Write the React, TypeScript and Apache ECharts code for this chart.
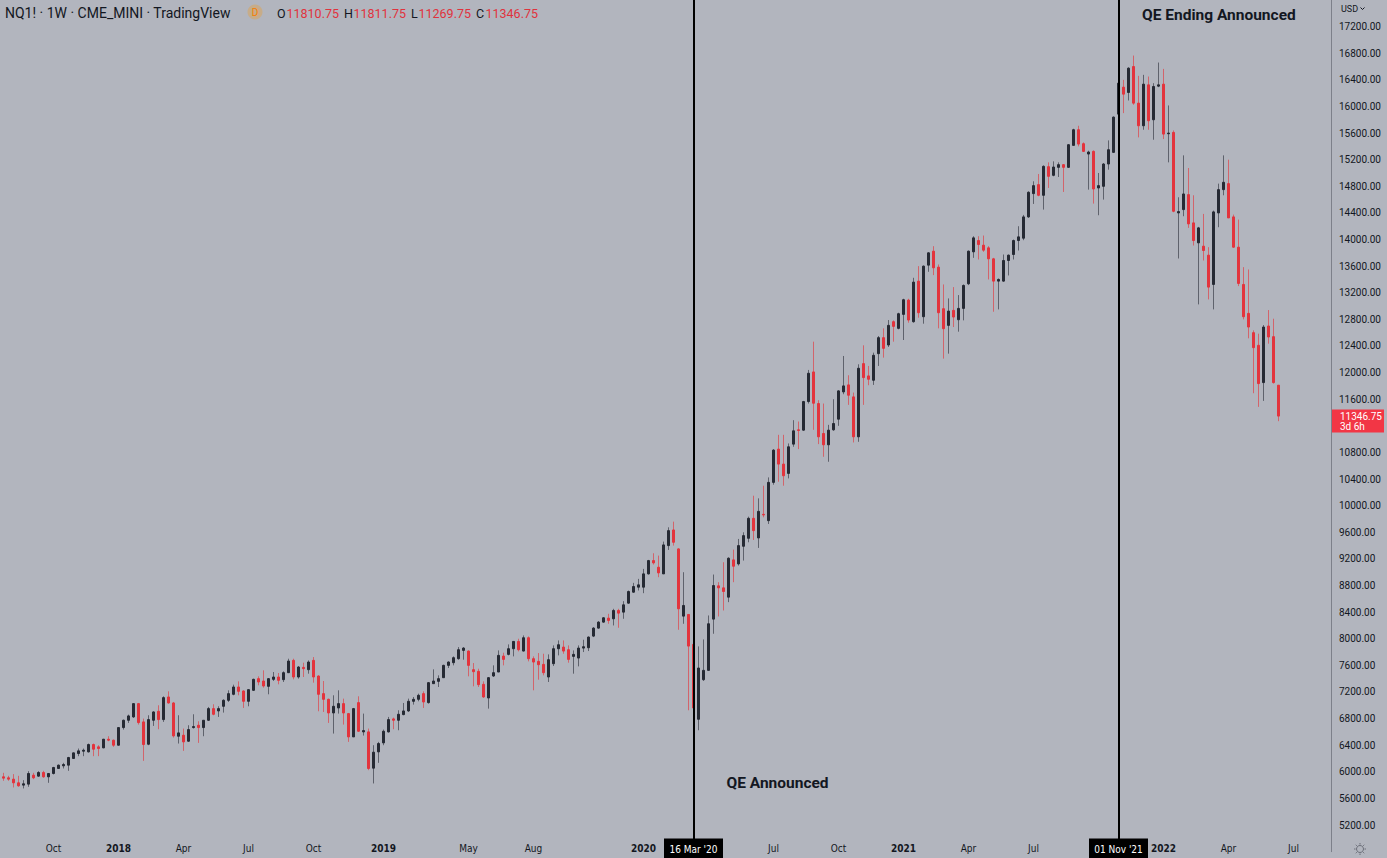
import React, { useEffect, useRef } from "react";
import * as echarts from "echarts";

// ---------- data ----------
const START_WEEK = "2017-07-17"; // Monday of the first weekly candle
const TOTAL_WEEKS = 267; // data weeks + empty future weeks on the right

// weekly candles: [open, close, low, high]
const ohlc2017: number[][] = [
  [5835, 5915, 5830, 5925], [5925, 5905, 5865, 5985], [5910, 5890, 5865, 5940], [5890, 5835, 5765, 5965],
  [5835, 5790, 5775, 5940], [5800, 5820, 5750, 5875], [5815, 5975, 5775, 6010], [5950, 5910, 5890, 5985],
  [5935, 5990, 5925, 6010], [5990, 5925, 5910, 6015], [5925, 5975, 5835, 5980], [5975, 6065, 5960, 6075],
  [6050, 6100, 6045, 6110], [6090, 6110, 6050, 6135], [6100, 6215, 6015, 6225], [6200, 6285, 6195, 6290],
  [6275, 6315, 6235, 6350], [6310, 6325, 6235, 6350], [6300, 6410, 6290, 6425], [6410, 6340, 6235, 6425],
  [6375, 6350, 6235, 6400], [6360, 6490, 6355, 6495], [6490, 6475, 6460, 6535], [6475, 6400, 6375, 6485],
];
const ohlc2018: number[][] = [
  [6400, 6665, 6395, 6670], [6665, 6775, 6635, 6785], [6775, 6840, 6735, 6860], [6825, 7025, 6810, 7030],
  [7025, 6740, 6710, 7035], [6750, 6410, 6165, 6800], [6415, 6785, 6400, 6850], [6775, 6900, 6690, 6910],
  [6910, 6785, 6640, 7000], [6785, 7115, 6750, 7135], [7125, 7035, 7025, 7210], [7035, 6540, 6515, 7050],
  [6535, 6585, 6425, 6850], [6550, 6450, 6315, 6650], [6460, 6635, 6450, 6700], [6665, 6680, 6650, 6865],
  [6700, 6665, 6435, 6760], [6665, 6775, 6535, 6775], [6775, 6950, 6765, 6975], [6950, 6865, 6850, 7015],
  [6915, 6950, 6825, 6985], [6985, 7075, 6890, 7090], [7075, 7175, 7050, 7225], [7165, 7275, 7150, 7310],
  [7275, 7210, 7150, 7360], [7215, 7060, 6960, 7225], [7060, 7235, 6985, 7240], [7225, 7390, 7215, 7400],
  [7400, 7350, 7300, 7435], [7365, 7290, 7265, 7525], [7285, 7400, 7165, 7410], [7390, 7425, 7365, 7500],
  [7425, 7375, 7315, 7485], [7385, 7490, 7350, 7510], [7490, 7665, 7485, 7700], [7675, 7425, 7390, 7700],
  [7425, 7575, 7400, 7590], [7570, 7550, 7425, 7640], [7535, 7650, 7475, 7675], [7675, 7425, 7340, 7725],
  [7440, 7165, 6910, 7450], [7175, 7090, 6900, 7365], [7090, 6885, 6735, 7100], [6885, 6985, 6575, 7150],
  [6960, 7025, 6875, 7225], [7025, 6885, 6710, 7100], [6875, 6525, 6450, 6885], [6525, 6950, 6525, 6960],
  [7040, 6610, 6600, 7135], [6600, 6620, 6545, 6875], [6600, 6050, 6025, 6650], [6055, 6295, 5825, 6400],
  [6300, 6425, 6135, 6450],
];
const ohlc2019: number[][] = [
  [6435, 6610, 6400, 6635], [6600, 6785, 6590, 6825], [6795, 6775, 6640, 6815], [6775, 6865, 6625, 6925],
  [6860, 6915, 6850, 7035], [6915, 7060, 6900, 7100], [7060, 7090, 7010, 7125], [7090, 7150, 7060, 7175],
  [7175, 7050, 6960, 7210], [7040, 7340, 7025, 7350], [7325, 7365, 7325, 7540], [7360, 7400, 7275, 7450],
  [7415, 7600, 7415, 7610], [7600, 7650, 7560, 7660], [7640, 7715, 7600, 7735], [7700, 7835, 7685, 7875],
  [7825, 7860, 7685, 7875], [7815, 7600, 7435, 7825], [7535, 7505, 7285, 7635], [7510, 7310, 7275, 7550],
  [7315, 7125, 7110, 7360], [7110, 7415, 6950, 7425], [7440, 7490, 7425, 7600], [7500, 7750, 7500, 7825],
  [7740, 7690, 7600, 7790], [7765, 7850, 7750, 7915], [7850, 7960, 7735, 7965], [7960, 7835, 7810, 8000],
  [7815, 8015, 7810, 8050], [8015, 7700, 7660, 8035], [7700, 7650, 7225, 7735], [7660, 7610, 7385, 7785],
  [7615, 7490, 7450, 7775], [7425, 7685, 7350, 7765], [7625, 7850, 7590, 7900], [7850, 7910, 7750, 7975],
  [7875, 7815, 7775, 7975], [7835, 7690, 7640, 7900], [7735, 7765, 7475, 7825], [7710, 7860, 7585, 7900],
  [7860, 7880, 7800, 7985], [7865, 8025, 7815, 8035], [8040, 8160, 8025, 8175], [8160, 8250, 8150, 8265],
  [8250, 8315, 8240, 8325], [8310, 8275, 8225, 8375], [8300, 8425, 8200, 8450], [8425, 8385, 8165, 8450],
  [8400, 8510, 8300, 8565], [8535, 8710, 8525, 8725], [8700, 8785, 8690, 8840], [8775, 8810, 8725, 8900],
];
const ohlc2020: number[][] = [
  [8775, 8975, 8685, 9050], [8975, 9175, 8965, 9185], [9175, 9140, 9115, 9285], [9075, 8990, 8925, 9250],
  [8975, 9410, 8975, 9460], [9400, 9625, 9335, 9675], [9635, 9450, 9400, 9760], [9350, 8450, 8135, 9360],
  [8340, 8500, 8225, 9000], [8365, 7890, 6925, 8370], [7915, 6960, 6800, 7925], [6790, 7560, 6625, 7885],
  [7385, 7525, 7365, 7990], [7525, 8225, 7525, 8350], [8295, 8800, 8075, 8965], [8795, 8765, 8335, 8850],
  [8765, 8710, 8425, 9150], [8625, 9210, 8550, 9225], [9185, 9090, 8850, 9340], [9125, 9400, 9100, 9500],
  [9390, 9550, 9175, 9600], [9510, 9810, 9450, 9835], [9810, 9625, 9485, 10150], [9515, 9915, 9365, 10110],
  [9870, 9860, 9825, 10300], [9775, 10350, 9725, 10425], [10350, 10835, 10315, 10850], [10850, 10625, 10360, 11065],
  [10625, 10450, 10300, 11065], [10485, 10885, 10410, 10935], [10925, 11125, 10885, 11285], [11140, 11130, 10850, 11265],
  [11135, 11565, 11125, 11575], [11565, 11990, 11535, 12040], [12010, 11540, 11140, 12465], [11535, 11035, 10925, 11585],
  [11085, 10915, 10735, 11535], [10915, 11135, 10660, 11215], [11140, 11235, 11125, 11600], [11300, 11725, 11200, 11735],
  [11710, 11800, 11675, 12250], [11815, 11660, 11515, 11960], [11635, 11035, 10950, 11700], [11035, 12065, 10960, 12125],
  [12135, 11925, 11515, 12410], [11950, 11900, 11810, 12100], [11885, 12260, 11815, 12300], [12285, 12525, 12100, 12550],
  [12525, 12365, 12225, 12665], [12415, 12710, 12385, 12790], [12765, 12695, 12465, 12785], [12665, 12885, 12650, 12900],
];
const ohlc2021: number[][] = [
  [12875, 13095, 12490, 13110], [13090, 12790, 12750, 13110], [12765, 13360, 12750, 13425], [13375, 12900, 12825, 13600],
  [12840, 13600, 12735, 13610], [13615, 13800, 13515, 13810], [13825, 13575, 13465, 13900], [13585, 12900, 12665, 13625],
  [12960, 12660, 12210, 13325], [12710, 12925, 12285, 13115], [12935, 12835, 12685, 13285], [12795, 12965, 12615, 13165],
  [12965, 13310, 12785, 13325], [13335, 13825, 13315, 13835], [13815, 14025, 13725, 14050], [13985, 13925, 13700, 14050],
  [13915, 13840, 13815, 14060], [13875, 13710, 13400, 13900], [13710, 13375, 12915, 13725], [13375, 13400, 12950, 13415],
  [13375, 13685, 13365, 13775], [13685, 13765, 13460, 13775], [13775, 13985, 13700, 14000], [13985, 14040, 13835, 14200],
  [14020, 14340, 13990, 14370], [14340, 14710, 14325, 14725], [14690, 14810, 14535, 14875], [14825, 14665, 14650, 14985],
  [14665, 15100, 14450, 15115], [15095, 14950, 14775, 15160], [14965, 15090, 14950, 15175], [15085, 15125, 14940, 15160],
  [15125, 15085, 14715, 15135], [15085, 15425, 15075, 15435], [15415, 15650, 15415, 15665], [15650, 15435, 15400, 15710],
  [15440, 15325, 15315, 15460], [15285, 15315, 14750, 15335], [15325, 14760, 14540, 15340], [14775, 14810, 14365, 15000],
  [14800, 15135, 14600, 15150], [15135, 15350, 15050, 15490], [15310, 15840, 15300, 15850], [15885, 16350, 15865, 16435],
  [16290, 16185, 15900, 16400], [16210, 16575, 16090, 16590], [16600, 16050, 16025, 16765], [16050, 15710, 15535, 16460],
  [15710, 16335, 15650, 16475], [16325, 15785, 15650, 16450], [15800, 16300, 15500, 16350], [16305, 16325, 16290, 16660],
];
const ohlc2022: number[][] = [
  [16335, 15585, 15510, 16565], [15590, 15600, 15160, 16015], [15610, 14425, 14410, 15640], [14400, 14420, 13715, 14635],
  [14450, 14685, 14350, 15265], [14675, 14235, 14175, 15075], [14250, 13985, 13910, 14665], [13950, 14175, 13025, 14190],
  [13900, 13835, 13685, 14385], [13765, 13285, 13100, 13885], [13325, 14415, 12950, 14435], [14400, 14750, 14185, 14840],
  [14750, 14860, 14665, 15265], [14840, 14325, 14325, 15200], [14340, 13885, 13875, 14375], [13885, 13340, 13300, 14300],
  [13325, 12840, 12800, 13585], [12890, 12685, 12515, 13550], [12600, 12375, 11690, 12635], [12410, 11835, 11485, 12585],
  [11850, 12685, 11575, 12715], [12700, 12535, 12435, 12940], [12540, 11850, 11835, 12810], [11810.75, 11346.75, 11269.75, 11811.75],
];

const tickDates = [
  "2017-10-02", "2018-01-01", "2018-04-02", "2018-07-02", "2018-10-01", "2019-01-07", "2019-05-06",
  "2019-08-05", "2020-01-06", "2020-07-06", "2020-10-05", "2021-01-04", "2021-04-05", "2021-07-05",
  "2022-01-03", "2022-04-04", "2022-07-04",
];
const tickLabels = [
  "Oct", "2018", "Apr", "Jul", "Oct", "2019", "May", "Aug", "2020", "Jul", "Oct", "2021", "Apr", "Jul",
  "2022", "Apr", "Jul",
];

const eventDates = ["2020-03-16", "2021-11-01"];
const eventBoxLabels = ["16 Mar '20", "01 Nov '21"];
const eventNotes = ["QE Announced", "QE Ending Announced"];

const Y_MIN = 4800;
const Y_MAX = 17600;
const Y_STEP = 400;

// ---------- style ----------
const SHIFT = 4; // chart canvas starts 4px left of the page so the first candle is cut like the reference
const BG = "#b2b5be";
const UP = "#262a34";
const DN = "#e3343d";
const UP_WICK = "#5f626c";
const DN_WICK = "#d2646b";
const TEXT = "#131722";
const RED_TEXT = "#e0323d";
const FONT = "Roboto, 'Noto Sans', sans-serif";
const NARROW = "'Liberation Sans Narrow', 'DejaVu Sans Condensed', Roboto, sans-serif";

function weekDates(start: string, n: number): string[] {
  const t0 = new Date(start + "T00:00:00Z").getTime();
  const out: string[] = [];
  for (let i = 0; i < n; i++) out.push(new Date(t0 + i * 7 * 86400000).toISOString().slice(0, 10));
  return out;
}

export default function App() {
  const ref = useRef<HTMLDivElement>(null);
  useEffect(() => {
    if (!ref.current) return;
    const chart = echarts.init(ref.current, null, { renderer: "svg" });
    const dates = weekDates(START_WEEK, TOTAL_WEEKS);
    const ohlc = [...ohlc2017, ...ohlc2018, ...ohlc2019, ...ohlc2020, ...ohlc2021, ...ohlc2022];
    const wickData = ohlc.map(([o, c, l, h]) => [o, c, l, h]);
    const bodyData = ohlc.map(([o, c]) => [o, c, Math.min(o, c), Math.max(o, c)]);
    const last = ohlc[ohlc.length - 1];

    chart.setOption({
      animation: false,
      backgroundColor: BG,
      grid: { left: 0, top: -1.667, width: 1335, height: 853.333, containLabel: false },
      xAxis: {
        type: "category",
        data: dates,
        boundaryGap: true,
        axisLine: { show: false },
        axisTick: { show: false },
        splitLine: { show: false },
        axisLabel: {
          interval: (_i: number, v: string) => tickDates.includes(v),
          formatter: (v: string) => {
            const t = tickLabels[tickDates.indexOf(v)] ?? "";
            return /^\d{4}$/.test(t) ? `{y|${t}}` : t;
          },
          margin: -2.7,
          verticalAlign: "middle",
          color: TEXT,
          fontSize: 10,
          fontFamily: NARROW,
          rich: { y: { fontWeight: "bold", fontSize: 10, fontFamily: NARROW, color: TEXT, verticalAlign: "middle" } },
        },
      },
      yAxis: {
        type: "value",
        position: "right",
        min: Y_MIN,
        max: Y_MAX,
        interval: Y_STEP,
        axisLine: { show: true, onZero: false, lineStyle: { color: "#7d808a", width: 1 } },
        axisTick: { show: false },
        splitLine: { show: false },
        axisLabel: {
          margin: 8,
          color: TEXT,
          fontSize: 10,
          fontFamily: FONT,
          formatter: (v: number) =>
            v <= Y_MIN || v >= Y_MAX || Math.abs(v - last[1]) < 200 ? "" : v.toFixed(2),
        },
      },
      series: [
        {
          type: "candlestick",
          name: "wicks",
          data: wickData,
          barWidth: 0.1,
          silent: true,
          itemStyle: { color: UP_WICK, color0: DN_WICK, borderColor: UP_WICK, borderColor0: DN_WICK, borderWidth: 1 },
        },
        {
          type: "candlestick",
          name: "bodies",
          data: bodyData,
          barWidth: 2.6,
          silent: true,
          itemStyle: { color: UP, color0: DN, borderColor: UP, borderColor0: DN, borderWidth: 1 },
          markLine: {
            silent: true,
            symbol: ["none", "none"],
            label: { show: false },
            lineStyle: { color: "#000000", width: 2, type: "solid" },
            data: eventDates.map((d) => ({ xAxis: d })),
          },
        },
      ],
    });

    const xs = eventDates.map((d) => chart.convertToPixel({ xAxisIndex: 0 }, dates.indexOf(d)) as number);
    const yLast = chart.convertToPixel({ yAxisIndex: 0 }, last[1]) as number;
    const fmt = (v: number) => v.toFixed(2);
    const X = (px: number) => px + SHIFT; // page x -> chart x

    const graphic: any[] = [];
    // header
    graphic.push({ type: "text", x: X(5), y: 13, z: 100, style: { text: "NQ1! · 1W · CME_MINI · TradingView", fill: TEXT, font: `14px ${FONT}`, verticalAlign: "middle" } });
    graphic.push({ type: "circle", shape: { cx: X(255), cy: 12, r: 7.5 }, z: 100, style: { fill: "rgba(255,152,0,0.28)" } });
    graphic.push({ type: "text", x: X(255), y: 12, z: 101, style: { text: "D", fill: "#f57c00", font: `10px ${FONT}`, align: "center", verticalAlign: "middle" } });
    const ohlcItems: [string, number, number][] = [
      ["O", last[0], 277], ["H", last[3], 344], ["L", last[2], 411], ["C", last[1], 476],
    ];
    ohlcItems.forEach(([k, v, x]) => {
      graphic.push({ type: "text", x: X(x), y: 13, z: 100, style: { text: k, fill: TEXT, font: `12.5px ${FONT}`, verticalAlign: "middle" } });
      graphic.push({ type: "text", x: X(x + (k === "L" ? 7.5 : 9.5)), y: 13, z: 100, style: { text: fmt(v), fill: RED_TEXT, font: `12.5px ${FONT}`, verticalAlign: "middle" } });
    });
    // currency selector
    graphic.push({ type: "text", x: X(1341), y: 9, z: 100, style: { text: "USD", fill: TEXT, font: `9px ${FONT}`, verticalAlign: "middle" } });
    graphic.push({ type: "polyline", z: 100, shape: { points: [[X(1360.5), 7.5], [X(1362.5), 9.5], [X(1364.5), 7.5]] }, style: { stroke: TEXT, lineWidth: 1, fill: null } });
    // event annotations
    xs.forEach((x, k) => {
      graphic.push({ type: "rect", z: 100, shape: { x: x - 29.5, y: 838.5, width: 59, height: 20 }, style: { fill: "#000000" } });
      graphic.push({ type: "text", z: 101, x, y: 849, style: { text: eventBoxLabels[k], fill: "#ffffff", font: `10px ${NARROW}`, align: "center", verticalAlign: "middle" } });
    });
    graphic.push({ type: "text", z: 100, x: xs[0] + 33, y: 783, style: { text: eventNotes[0], fill: TEXT, font: `bold 15.5px ${FONT}`, verticalAlign: "middle" } });
    graphic.push({ type: "text", z: 100, x: xs[1] + 23.5, y: 15, style: { text: eventNotes[1], fill: TEXT, font: `bold 15.5px ${FONT}`, verticalAlign: "middle" } });
    // last price label
    graphic.push({ type: "rect", z: 100, shape: { x: X(1332), y: yLast - 6.5, width: 52, height: 23 }, style: { fill: "#f23645" } });
    graphic.push({ type: "text", z: 101, x: X(1340), y: yLast, style: { text: fmt(last[1]), fill: "#ffffff", font: `10px ${FONT}`, verticalAlign: "middle" } });
    graphic.push({ type: "text", z: 101, x: X(1340), y: yLast + 10, style: { text: "3d 6h", fill: "#ffffff", font: `10px ${FONT}`, verticalAlign: "middle" } });
    // settings gear
    graphic.push({ type: "circle", z: 100, shape: { cx: X(1360), cy: 849, r: 3.5 }, style: { fill: null, stroke: "#6b6e78", lineWidth: 1 } });
    for (let a = 0; a < 8; a++) {
      const ang = (a * Math.PI) / 4;
      graphic.push({
        type: "line", z: 100,
        shape: { x1: X(1360) + Math.cos(ang) * 4.5, y1: 849 + Math.sin(ang) * 4.5, x2: X(1360) + Math.cos(ang) * 6, y2: 849 + Math.sin(ang) * 6 },
        style: { stroke: "#6b6e78", lineWidth: 1 },
      });
    }
    chart.setOption({ graphic });

    return () => chart.dispose();
  }, []);

  return (
    <div
      ref={ref}
      style={{ position: "fixed", left: -SHIFT, top: 0, width: 1387 + SHIFT, height: 858 }}
    />
  );
}
